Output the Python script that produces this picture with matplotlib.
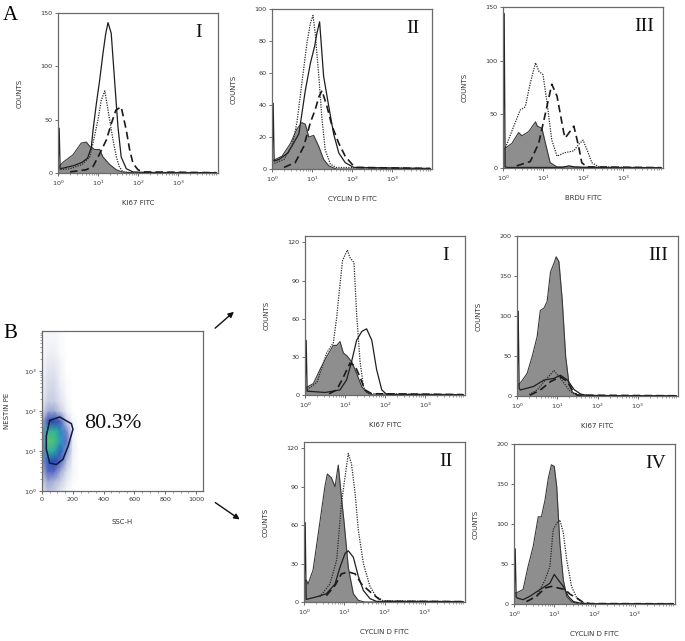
import numpy as np
import matplotlib
matplotlib.use("Agg")
import matplotlib.pyplot as plt
from matplotlib.colors import LinearSegmentedColormap
from matplotlib.ticker import FixedLocator, LogLocator, NullFormatter, MultipleLocator

W, H = 685, 641

# ---------------- panel A-I : KI67 (ylim 150)
a1_fill_x = [1.0, 1.33, 2.37, 3.8, 5.1, 6.2, 8.3, 11, 13.3, 19.5, 28.8, 40, 80, 9000]
a1_fill_y = [5, 10, 17, 28, 29, 25, 22, 22, 15, 8, 3, 1, 0, 0]
a1_solid_x = [1.0, 1.07, 1.13, 1.5, 2.5, 4.0, 5.5, 6.8, 7.5, 9.1, 11, 13.3, 15.5, 17.8, 21.4, 26.3, 31.6, 38, 51, 75, 150, 9000]
a1_solid_y = [0, 42, 4, 5, 7, 10, 14, 24, 40, 65, 87, 112, 130, 141, 131, 84, 43, 15, 4, 1, 0.5, 0.3]
a1_dot_x = [1.0, 2.0, 4.0, 6.2, 7.5, 10, 12, 14.8, 17.8, 23.7, 28.8, 34, 42, 60, 9000]
a1_dot_y = [3, 4, 8, 15, 28, 50, 68, 77, 59, 31, 15, 6, 1, 0.5, 0.3]
a1_dash_x = [2.0, 5.0, 7.5, 11, 16.2, 21.4, 28, 38, 51, 61.7, 75, 100, 135, 9000]
a1_dash_y = [1, 3, 6, 18, 31, 46, 59, 62, 40, 22, 9, 3, 1, 0.3]

# ---------------- panel A-II : CYCLIN D (ylim 100)
a2_fill_x = [1.0, 1.78, 2.9, 4.2, 5.6, 6.8, 8.3, 11, 14.8, 19.5, 26.3, 40, 9000]
a2_fill_y = [5, 8, 16, 25, 29, 28, 20, 21, 14, 6, 2, 0, 0]
a2_solid_x = [1.0, 1.07, 1.13, 1.5, 2.5, 4.7, 6.8, 9.1, 11.7, 13.3, 15.5, 19.5, 26.3, 34.7, 46.8, 67.6, 110, 9000]
a2_solid_y = [0, 41, 5, 6, 10, 22, 49, 66, 77, 85, 92, 58, 39, 22, 10, 4, 1, 0.3]
a2_dot_x = [1.0, 2.0, 3.2, 4.2, 5.6, 7.5, 9.1, 10.6, 12, 14.8, 17.8, 21.4, 28.8, 40, 9000]
a2_dot_y = [3, 6, 15, 29, 54, 79, 91, 96, 85, 58, 31, 12, 3, 1, 0.3]
a2_dash_x = [2.0, 3.8, 6.2, 9.1, 12, 14.8, 17.8, 23.7, 31.6, 46.8, 67.6, 100, 130, 9000]
a2_dash_y = [1, 4, 14, 29, 37, 45, 49, 39, 27, 16, 8, 3, 1, 0.3]

# ---------------- panel A-III : BRDU (ylim 150)
a3_fill_x = [1.0, 1.68, 2.45, 3.0, 4.4, 6.5, 7.2, 9.4, 11.5, 15.1, 22.4, 9000]
a3_fill_y = [17, 23, 33, 30, 34, 43, 39, 37, 23, 5, 1, 0]
a3_solid_x = [1.0, 1.07, 1.13, 1.3, 3.0, 10, 30, 45, 60, 100, 9000]
a3_solid_y = [0, 144, 1, 0.5, 0.5, 0.5, 0.5, 2, 1, 0.5, 0.3]
a3_dot_x = [1.15, 1.86, 2.7, 3.6, 4.8, 6.5, 7.9, 10, 12.6, 16.6, 22.4, 33, 59, 78, 100, 126, 166, 250, 9000]
a3_dot_y = [19, 39, 54, 57, 79, 98, 90, 87, 61, 26, 11, 14, 16, 22, 26, 17, 5, 1, 0.3]
a3_dash_x = [2.2, 4.8, 7.8, 11.5, 16.6, 22.4, 33, 36, 59, 78, 93, 126, 9000]
a3_dash_y = [2, 6, 23, 51, 78, 67, 33, 28, 39, 20, 5, 1, 0.3]

# ---------------- panel B-I : KI67 (ylim 125)
b1_fill_x = [1.0, 1.1, 1.62, 2.37, 3.47, 5.1, 6.2, 7.5, 9.1, 11, 14.8, 19.5, 26.3, 34.7, 50, 9000]
b1_fill_y = [6, 6, 9, 20, 30, 39, 39, 42, 33, 31, 26, 17, 6.5, 2, 0, 0]
b1_solid_x = [1.0, 1.07, 1.13, 3.2, 7.5, 11, 14.8, 19.5, 26.3, 34.7, 46.8, 61.7, 83, 110, 9000]
b1_solid_y = [0, 43, 3, 2, 4, 12, 27, 43, 50, 52, 43, 20, 4, 0.5, 0.3]
b1_dot_x = [1.0, 2.0, 3.47, 5.1, 6.2, 7.5, 8.7, 11.5, 13.3, 16.8, 19.5, 23.7, 28.8, 38, 9000]
b1_dot_y = [3, 10, 33, 41, 61, 87, 106, 114, 108, 104, 64, 27, 6.5, 1, 0.3]
b1_dash_x = [4.0, 6.2, 9.1, 13.3, 17.8, 23.7, 31.6, 46.8, 9000]
b1_dash_y = [1, 4, 14, 25, 23, 14, 4, 1, 0.3]

# ---------------- panel B-III : KI67 (ylim 200)
b3_fill_x = [1.0, 1.2, 1.78, 2.37, 3.16, 3.8, 4.7, 5.6, 6.8, 8.3, 9.4, 11, 13.3, 16.2, 19.5, 23.7, 31.6, 9000]
b3_fill_y = [14, 16, 28, 49, 74, 107, 110, 118, 155, 166, 174, 168, 120, 49, 16, 5, 1, 0]
b3_solid_x = [1.0, 1.07, 1.13, 1.2, 2.6, 4.7, 8.3, 12, 17.8, 26.3, 38, 56, 9000]
b3_solid_y = [0, 106, 10, 7.5, 12, 20, 22, 26, 20, 8, 2.5, 0.5, 0.3]
b3_dot_x = [2.0, 3.16, 5.1, 8.3, 11, 14.8, 19.5, 26.3, 40, 9000]
b3_dot_y = [2, 7.5, 20, 32, 24, 16, 7.5, 2.5, 0.5, 0.3]
b3_dash_x = [2.1, 3.8, 6.8, 12, 17.8, 23.7, 31.6, 9000]
b3_dash_y = [1, 7.5, 18, 24, 18, 7.5, 1, 0.3]

# ---------------- panel B-II : CYCLIN D (ylim 125)
b2_fill_x = [1.0, 1.15, 1.26, 1.68, 2.45, 3.3, 3.8, 4.8, 5.9, 7.1, 8.5, 10, 12.6, 16.8, 22.4, 31.6, 9000]
b2_fill_y = [17, 17, 14, 25, 61, 90, 100, 97, 90, 107, 82, 61, 27, 6.5, 1.3, 0, 0]
b2_solid_x = [1.0, 1.07, 1.13, 2.04, 3.6, 5.9, 7.8, 10.5, 12.6, 16.8, 22.4, 29.9, 43.7, 63, 9000]
b2_solid_y = [0, 62, 2, 4, 6.5, 14, 27, 38, 40, 35, 20, 9, 2.6, 0.5, 0.3]
b2_dot_x = [2.45, 4.4, 6.5, 8.5, 10.5, 12.6, 15.1, 18.6, 22.4, 29.9, 43.7, 63, 93, 9000]
b2_dot_y = [4, 14, 33, 77, 98, 116, 108, 85, 56, 30, 12, 4, 1, 0.3]
b2_dash_x = [3.6, 5.9, 8.5, 12.6, 18.6, 26.9, 43.7, 70.8, 100, 9000]
b2_dash_y = [5, 13, 22, 23.5, 22, 14, 8, 2.6, 0.5, 0.3]

# ---------------- panel B-IV : CYCLIN D (ylim 200)
b4_fill_x = [1.0, 1.15, 1.68, 2.24, 3.0, 4.0, 4.8, 5.9, 7.1, 8.5, 10, 11.5, 13.8, 16.8, 20.4, 26.9, 40, 9000]
b4_fill_y = [14, 14, 18, 47, 72, 109, 109, 130, 157, 174, 172, 147, 76, 30, 9.5, 3, 0, 0]
b4_solid_x = [1.0, 1.07, 1.13, 1.2, 1.68, 2.45, 4.4, 5.9, 7.8, 10, 12.6, 16.8, 22.4, 30, 45, 63, 9000]
b4_solid_y = [0, 69, 9, 7.5, 5.4, 9.5, 18, 22, 26, 37, 30, 22, 9.5, 3, 1, 0.3, 0.3]
b4_dot_x = [3.6, 5.9, 7.8, 9.4, 11.5, 13.8, 16.8, 20.4, 26.9, 36.3, 47.9, 70, 9000]
b4_dot_y = [9.5, 30, 47, 93, 101, 105, 89, 55, 22, 7.5, 2, 0.5, 0.3]
b4_dash_x = [2.04, 3.6, 5.9, 8.5, 12.6, 18.6, 25, 36.3, 52.5, 80, 9000]
b4_dash_y = [3, 9.5, 20, 22, 20, 18, 12, 7.5, 2, 0.5, 0.3]

# ---------------- panel B dot plot : NESTIN PE vs SSC-H
ssc_nodes = [0, 40, 80, 120, 160, 200, 240, 280]
nestin_log_nodes = [0.0, 0.25, 0.5, 0.75, 1.0, 1.25, 1.5, 1.75, 2.0, 2.25,
                    2.5, 2.75, 3.0, 3.25, 3.5, 3.75, 4.0]
density = [
    [0.05, 0.10, 0.08, 0.05, 0.02, 0.00, 0, 0],
    [0.08, 0.15, 0.12, 0.08, 0.04, 0.01, 0, 0],
    [0.12, 0.28, 0.25, 0.14, 0.06, 0.02, 0, 0],
    [0.18, 0.50, 0.45, 0.28, 0.10, 0.02, 0, 0],
    [0.22, 0.75, 0.70, 0.50, 0.18, 0.03, 0, 0],
    [0.22, 0.92, 0.86, 0.62, 0.24, 0.03, 0, 0],
    [0.20, 0.76, 0.80, 0.58, 0.20, 0.03, 0, 0],
    [0.12, 0.40, 0.45, 0.30, 0.08, 0.02, 0, 0],
    [0.06, 0.14, 0.14, 0.08, 0.03, 0.00, 0, 0],
    [0.04, 0.08, 0.08, 0.05, 0.02, 0.00, 0, 0],
    [0.03, 0.07, 0.07, 0.04, 0.01, 0.00, 0, 0],
    [0.03, 0.06, 0.06, 0.03, 0.01, 0.00, 0, 0],
    [0.02, 0.05, 0.05, 0.03, 0.00, 0.00, 0, 0],
    [0.02, 0.04, 0.04, 0.02, 0.00, 0.00, 0, 0],
    [0.01, 0.03, 0.03, 0.01, 0.00, 0.00, 0, 0],
    [0.01, 0.02, 0.02, 0.01, 0.00, 0.00, 0, 0],
    [0.01, 0.02, 0.02, 0.01, 0.00, 0.00, 0, 0],
]
gate_ssc = [50, 115, 191, 201, 169, 136, 93, 50, 28, 28, 50]
gate_nestin = [58, 71, 48, 35, 13, 6.2, 4.6, 5, 11, 24, 58]
gate_pct = "80.3%"

TICK_FS = 4.6
LAB_FS = 5.0
SERIF = "Liberation Serif"


def px_axes(fig, left, top, right, bottom):
    return fig.add_axes([left / W, 1 - bottom / H, (right - left) / W, (bottom - top) / H])


def style_axes(ax):
    for s in ax.spines.values():
        s.set_color("#6a6a6a")
        s.set_linewidth(0.9)
    ax.tick_params(which="major", direction="out", length=2.5, width=0.6,
                   colors="#555555", labelsize=TICK_FS, labelcolor="#333333", pad=1.5)
    ax.tick_params(which="minor", direction="out", length=1.4, width=0.5, colors="#777777")


def hist_panel(fig, box, ymax, yticks, xlabel, numeral, fill, solid, dot, dash):
    ax = px_axes(fig, *box)
    ax.set_xscale("log")
    ax.fill_between(fill[0], fill[1], 0, color="#8e8e8e", lw=0)
    ax.plot(fill[0], fill[1], color="#3a3a3a", lw=0.8)
    ax.plot(solid[0], solid[1], color="#1e1e1e", lw=0.9)
    ax.plot(dot[0], dot[1], color="#2a2a2a", lw=0.9, ls=(0, (1, 1)))
    ax.plot(dash[0], dash[1], color="#1a1a1a", lw=1.2, ls=(0, (4.5, 2.5)))
    ax.set_xlim(1, 10000)
    ax.set_ylim(0, ymax)
    ax.set_yticks(yticks)
    ax.xaxis.set_major_locator(FixedLocator([1, 10, 100, 1000]))
    ax.set_xticklabels([r"$10^0$", r"$10^1$", r"$10^2$", r"$10^3$"])
    ax.xaxis.set_minor_locator(LogLocator(base=10, subs=np.arange(2, 10)))
    ax.xaxis.set_minor_formatter(NullFormatter())
    style_axes(ax)
    ax.set_ylabel("COUNTS", fontsize=LAB_FS, color="#333333")
    ax.set_xlabel(xlabel, fontsize=LAB_FS, color="#333333")
    ax.yaxis.set_label_coords(-0.22, 0.5)
    ax.xaxis.set_label_coords(0.5, -0.17)
    ax.text(0.88, 0.88, numeral, transform=ax.transAxes, ha="center", va="center",
            fontsize=14, family=SERIF, color="#111111")
    return ax


fig = plt.figure(figsize=(W / 100, H / 100), dpi=100)
fig.patch.set_facecolor("white")

hist_panel(fig, (58, 13, 218, 173), 150, [0, 50, 100, 150], "KI67 FITC", "I",
           (a1_fill_x, a1_fill_y), (a1_solid_x, a1_solid_y),
           (a1_dot_x, a1_dot_y), (a1_dash_x, a1_dash_y))
hist_panel(fig, (272, 9, 432, 169), 100, [0, 20, 40, 60, 80, 100], "CYCLIN D FITC", "II",
           (a2_fill_x, a2_fill_y), (a2_solid_x, a2_solid_y),
           (a2_dot_x, a2_dot_y), (a2_dash_x, a2_dash_y))
hist_panel(fig, (503, 7, 663, 168), 150, [0, 50, 100, 150], "BRDU FITC", "III",
           (a3_fill_x, a3_fill_y), (a3_solid_x, a3_solid_y),
           (a3_dot_x, a3_dot_y), (a3_dash_x, a3_dash_y))
hist_panel(fig, (305, 236, 465, 395), 125, [0, 30, 60, 90, 120], "KI67 FITC", "I",
           (b1_fill_x, b1_fill_y), (b1_solid_x, b1_solid_y),
           (b1_dot_x, b1_dot_y), (b1_dash_x, b1_dash_y))
hist_panel(fig, (517, 236, 678, 396), 200, [0, 50, 100, 150, 200], "KI67 FITC", "III",
           (b3_fill_x, b3_fill_y), (b3_solid_x, b3_solid_y),
           (b3_dot_x, b3_dot_y), (b3_dash_x, b3_dash_y))
hist_panel(fig, (304, 442, 465, 602), 125, [0, 30, 60, 90, 120], "CYCLIN D FITC", "II",
           (b2_fill_x, b2_fill_y), (b2_solid_x, b2_solid_y),
           (b2_dot_x, b2_dot_y), (b2_dash_x, b2_dash_y))
hist_panel(fig, (514, 444, 675, 604), 200, [0, 50, 100, 150, 200], "CYCLIN D FITC", "IV",
           (b4_fill_x, b4_fill_y), (b4_solid_x, b4_solid_y),
           (b4_dot_x, b4_dot_y), (b4_dash_x, b4_dash_y))

# dot plot
ax = px_axes(fig, 42, 331, 203, 491)
ax.set_yscale("log")
cmap = LinearSegmentedColormap.from_list("facs", [
    (0.0, "#ffffff"), (0.03, "#eef0f6"), (0.1, "#b8c0da"), (0.25, "#5868c0"),
    (0.45, "#2a46b4"), (0.6, "#2a96c8"), (0.8, "#36b88e"), (1.0, "#74d24e")])
X, Y = np.meshgrid(ssc_nodes, 10 ** np.array(nestin_log_nodes))
ax.pcolormesh(X, Y, np.array(density), cmap=cmap, vmin=0, vmax=1, shading="gouraud")
ax.plot(gate_ssc, gate_nestin, color="#101a3a", lw=1.1)
ax.set_xlim(0, 1045)
ax.set_ylim(1, 10000)
ax.set_xticks([0, 200, 400, 600, 800, 1000])
ax.xaxis.set_minor_locator(MultipleLocator(50))
ax.yaxis.set_major_locator(FixedLocator([1, 10, 100, 1000]))
ax.set_yticklabels([r"$10^0$", r"$10^1$", r"$10^2$", r"$10^3$"])
ax.yaxis.set_minor_locator(LogLocator(base=10, subs=np.arange(2, 10)))
ax.yaxis.set_minor_formatter(NullFormatter())
style_axes(ax)
ax.set_xlabel("SSC-H", fontsize=LAB_FS, color="#333333")
ax.set_ylabel("NESTIN PE", fontsize=LAB_FS, color="#333333")
ax.yaxis.set_label_coords(-0.2, 0.5)
ax.xaxis.set_label_coords(0.5, -0.175)
ax.text(0.26, 0.42, gate_pct, transform=ax.transAxes, ha="left", va="center",
        fontsize=16, family=SERIF, color="#111111")

# panel letters
fig.text(10 / W, 1 - 16 / H, "A", fontsize=15, family=SERIF, ha="center", va="center")
fig.text(10 / W, 1 - 333 / H, "B", fontsize=15, family=SERIF, ha="center", va="center")

# arrows from the dot plot to the histograms
for start, end in [((213, 330), (236, 310)), ((213, 501), (242, 521))]:
    fig.add_artist(matplotlib.patches.FancyArrowPatch(
        (start[0] / W, 1 - start[1] / H), (end[0] / W, 1 - end[1] / H),
        transform=fig.transFigure, arrowstyle="-|>", mutation_scale=8,
        color="#111111", lw=1.0))

fig.savefig("out.png", dpi=100)
